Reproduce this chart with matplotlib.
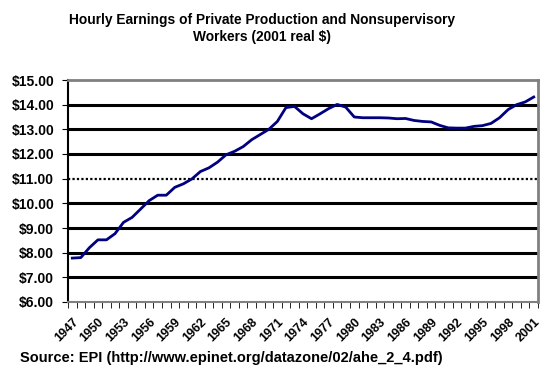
import matplotlib
matplotlib.use("Agg")
import matplotlib.pyplot as plt
import matplotlib.transforms as mtrans
import numpy as np

years = list(range(1947, 2002))
earnings = [7.78, 7.80, 8.20, 8.52, 8.52, 8.77, 9.23, 9.43, 9.77, 10.11,
            10.33, 10.33, 10.65, 10.79, 10.99, 11.29, 11.44, 11.67, 11.97, 12.11,
            12.30, 12.58, 12.79, 13.00, 13.32, 13.88, 13.93, 13.63, 13.43, 13.63,
            13.84, 14.01, 13.90, 13.50, 13.47, 13.47, 13.47, 13.46, 13.43, 13.44,
            13.36, 13.32, 13.30, 13.16, 13.06, 13.05, 13.05, 13.12, 13.15, 13.24,
            13.47, 13.80, 14.00, 14.11, 14.31]
y_ticks = [6, 7, 8, 9, 10, 11, 12, 13, 14, 15]
title = "Hourly Earnings of Private Production and Nonsupervisory\nWorkers (2001 real $)"
source = "Source: EPI (http://www.epinet.org/datazone/02/ahe_2_4.pdf)"

plt.rcParams['font.family'] = ['Liberation Sans', 'DejaVu Sans']

fig = plt.figure(figsize=(5.48, 3.75), dpi=100)
ax = fig.add_axes([68/548, 73/375, 470/548, 222/375])

x = np.arange(len(years))
for v in y_ticks[1:-1]:
    if v == 11:
        ax.axhline(v, color='black', lw=1.6, ls=(0, (1, 1)), zorder=1)
    else:
        ax.axhline(v, color='black', lw=2.2, zorder=1)
ax.plot(x, earnings, color='#000080', lw=2, zorder=3)

ax.set_xlim(-0.5, len(years) - 0.5)
ax.set_ylim(6, 15)
ax.set_yticks(y_ticks)
ax.set_yticklabels([f"${v:.2f}" for v in y_ticks], fontsize=10, fontweight='bold')
ax.set_xticks(x[::3])
ax.set_xticklabels([str(y) for y in years[::3]], rotation=45, ha='right',
                   va='top', rotation_mode='anchor', fontsize=9, fontweight='bold')
offset = mtrans.ScaledTranslation(-8/100, 0, fig.dpi_scale_trans)
for lbl in ax.get_xticklabels():
    lbl.set_transform(lbl.get_transform() + offset)
ax.set_xticks(np.arange(-0.5, len(years), 1), minor=True)
ax.tick_params(axis='x', which='major', length=0, pad=10)
ax.tick_params(axis='x', which='minor', length=4, direction='out', color='black')
ax.tick_params(axis='y', length=4, direction='out', pad=6)

for side in ['top', 'right']:
    ax.spines[side].set_color('#808080')
    ax.spines[side].set_linewidth(2)
ax.spines['bottom'].set_color('#808080')
ax.spines['bottom'].set_linestyle((0, (1, 1)))
ax.spines['bottom'].set_linewidth(1.5)
ax.spines['left'].set_color('black')
ax.spines['left'].set_linewidth(1.5)

fig.text(262/548, 1 - 28.5/375, title, ha='center', va='center', fontsize=9.9,
         fontweight='bold', linespacing=1.3)
fig.text(20/548, 1 - 358/375, source, ha='left', va='center', fontsize=10.5,
         fontweight='bold')

fig.savefig("out.png", dpi=100)
